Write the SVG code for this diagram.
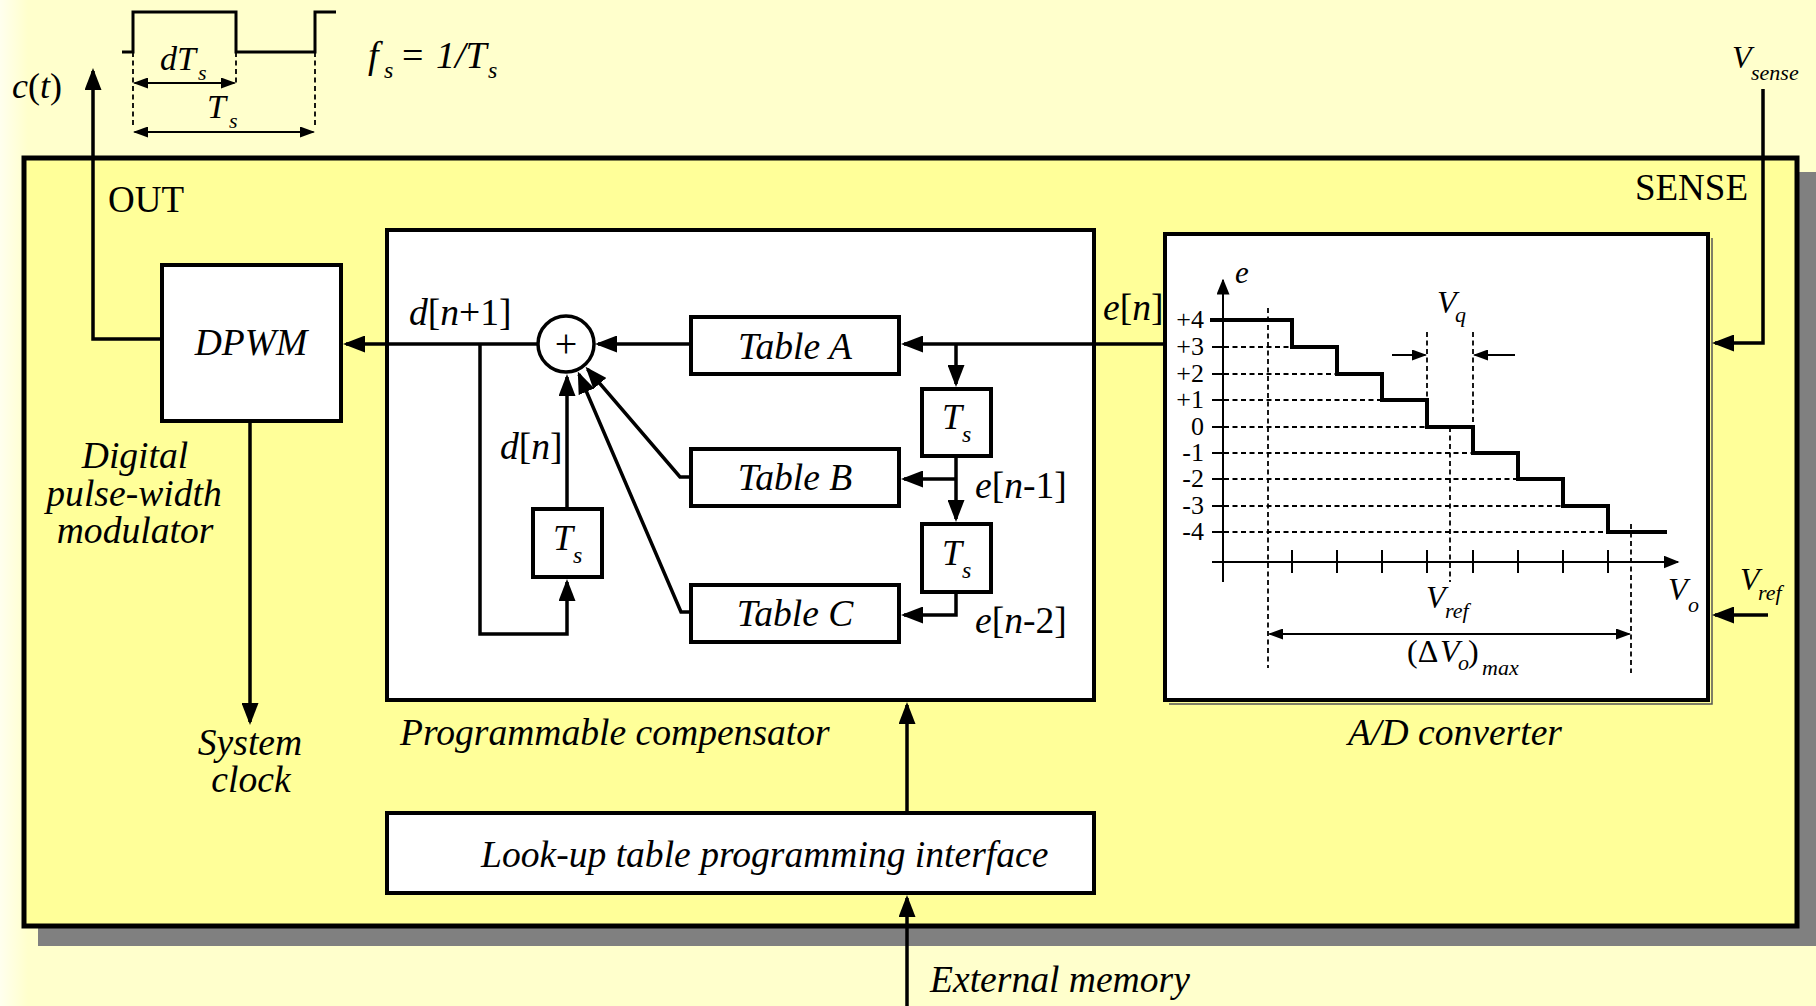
<svg xmlns="http://www.w3.org/2000/svg" width="1816" height="1006" viewBox="0 0 1816 1006">
  <defs>
    <linearGradient id="edge" x1="0" y1="0" x2="1" y2="0">
      <stop offset="0" stop-color="#FFFFEE"/>
      <stop offset="1" stop-color="#FFFFCC"/>
    </linearGradient>
    <!-- large connector arrowhead -->
    <marker id="ah" markerUnits="userSpaceOnUse" markerWidth="22" markerHeight="17" refX="19" refY="8.5" orient="auto">
      <path d="M0,0 L22,8.5 L0,17 z" fill="#000"/>
    </marker>
    <!-- small dimension arrowhead -->
    <marker id="as" markerUnits="userSpaceOnUse" markerWidth="15" markerHeight="11" refX="13.5" refY="5.5" orient="auto-start-reverse">
      <path d="M0,0 L15,5.5 L0,11 z" fill="#000"/>
    </marker>
    <!-- axis arrowhead -->
    <marker id="ax" markerUnits="userSpaceOnUse" markerWidth="16" markerHeight="13" refX="14.5" refY="6.5" orient="auto">
      <path d="M0,0 L16,6.5 L0,13 z" fill="#000"/>
    </marker>
  </defs>
  <style>
    .box { fill: #FFFFFF; stroke: #000; stroke-width: 4; }
    .wire { fill: none; stroke: #000; stroke-width: 3.5; stroke-linejoin: miter; }
    .thin { fill: none; stroke: #000; stroke-width: 2; }
    .dash { fill: none; stroke: #000; stroke-width: 1.8; stroke-dasharray: 5 3.5; }
    .it { font-family: "Liberation Serif", "Times New Roman", serif; font-style: italic; font-size: 37.6px; fill: #000; }
    .rm { font-family: "Liberation Serif", "Times New Roman", serif; font-size: 37px; fill: #000; }
    .num { font-family: "Liberation Serif", "Times New Roman", serif; font-size: 26px; fill: #000; }
    .sub { font-size: 24px; }
  </style>

  <!-- page background -->
  <rect x="0" y="0" width="1816" height="1006" fill="#FFFFCC"/>
  <rect x="0" y="0" width="28" height="1006" fill="url(#edge)"/>

  <!-- switching waveform c(t) -->
  <g id="waveform">
    <path d="M122,52 H133 V12 H236 V52 H315 V12 H336" fill="none" stroke="#000" stroke-width="3"/>
    <path class="dash" d="M133,52 V127 M236,52 V85 M315,52 V127" stroke-width="1.5"/>
    <path class="thin" d="M134.5,83 H234.5" marker-start="url(#as)" marker-end="url(#as)"/>
    <path class="thin" d="M134.5,132 H313.5" marker-start="url(#as)" marker-end="url(#as)"/>
    <text class="it" x="160" y="70" style="font-size:34px">dT<tspan x="198" y="80" style="font-size:22px">s</tspan></text>
    <text class="it" x="207" y="118" style="font-size:34px">T<tspan x="229" y="128" style="font-size:22px">s</tspan></text>
    <text class="it" x="368" y="68" style="font-size:38px">f<tspan x="384" y="78" style="font-size:24px">s</tspan><tspan x="402" y="68" style="font-style:normal">=</tspan><tspan x="436" y="68">1/T</tspan><tspan x="488" y="78" style="font-size:24px">s</tspan></text>
    <text class="it" x="12" y="98" style="font-size:36px">c<tspan style="font-style:normal">(</tspan>t<tspan style="font-style:normal">)</tspan></text>
  </g>

  <!-- enclosing controller box with drop shadow -->
  <g id="controller">
    <rect x="38" y="172" width="1790" height="774" fill="#808080"/>
    <rect x="24" y="158" width="1773" height="768" fill="#FFFF99" stroke="#000" stroke-width="5"/>
    <text class="rm" x="108" y="212">OUT</text>
    <text class="rm" x="1748" y="200" text-anchor="end">SENSE</text>
  </g>

  <!-- DPWM -->
  <g id="dpwm">
    <rect class="box" x="162" y="265" width="179" height="156"/>
    <text class="it" x="251" y="355" text-anchor="middle">DPWM</text>
    <text class="it" x="135" y="468" text-anchor="middle">Digital</text>
    <text class="it" x="134" y="506" text-anchor="middle">pulse-width</text>
    <text class="it" x="135" y="543" text-anchor="middle">modulator</text>
    <text class="it" x="250" y="755" text-anchor="middle">System</text>
    <text class="it" x="251" y="792" text-anchor="middle">clock</text>
  </g>

  <!-- programmable compensator -->
  <g id="compensator">
    <rect class="box" x="387" y="230" width="707" height="470"/>
    <text class="it" x="400" y="745">Programmable compensator</text>
  </g>

  <g id="sum">
    <circle cx="566" cy="344" r="28" fill="#fff" stroke="#000" stroke-width="3.5"/>
    <text class="rm" x="566" y="357" text-anchor="middle" style="font-size:40px">+</text>
  </g>

  <g id="table-a">
    <rect class="box" x="691" y="317" width="208" height="57"/>
    <text class="it" x="795" y="359" text-anchor="middle">Table A</text>
  </g>
  <g id="table-b">
    <rect class="box" x="691" y="449" width="208" height="57"/>
    <text class="it" x="795" y="490" text-anchor="middle">Table B</text>
  </g>
  <g id="table-c">
    <rect class="box" x="691" y="585" width="208" height="57"/>
    <text class="it" x="795" y="626" text-anchor="middle">Table C</text>
  </g>

  <g id="delay-e1">
    <rect class="box" x="922" y="389" width="69" height="67"/>
    <text class="it" x="942" y="429" style="font-size:36px">T<tspan x="962" y="442" class="sub">s</tspan></text>
  </g>
  <g id="delay-e2">
    <rect class="box" x="922" y="524" width="69" height="68"/>
    <text class="it" x="942" y="565" style="font-size:36px">T<tspan x="962" y="578" class="sub">s</tspan></text>
  </g>
  <g id="delay-d">
    <rect class="box" x="533" y="509" width="69" height="68"/>
    <text class="it" x="553" y="550" style="font-size:36px">T<tspan x="573" y="563" class="sub">s</tspan></text>
  </g>

  <!-- A/D converter with quantizer characteristic -->
  <g id="adc">
    <path d="M1712,238 V704 H1169" fill="none" stroke="#555" stroke-width="1.5"/>
    <rect class="box" x="1165" y="234" width="543" height="466"/>
    <text class="it" x="1455" y="745" text-anchor="middle">A/D converter</text>

    <!-- grid -->
    <path class="dash" d="M1224,347 H1292 M1224,374 H1337 M1224,400 H1382 M1224,427 H1427 M1224,453 H1473 M1224,479 H1518 M1224,506 H1563 M1224,532 H1608"/>
    <path class="thin" d="M1212,347 H1226 M1212,374 H1226 M1212,400 H1226 M1212,427 H1226 M1212,453 H1226 M1212,479 H1226 M1212,506 H1226 M1212,532 H1226"/>
    <path class="dash" d="M1268,308 V668 M1427,332 V400 M1473,332 V427 M1450,427 V582 M1631,524 V673"/>

    <!-- axes -->
    <path class="thin" d="M1223,582 V280" marker-end="url(#ax)" stroke-width="2.5"/>
    <path class="thin" d="M1212,562 H1678" marker-end="url(#ax)" stroke-width="2.5"/>
    <path class="thin" d="M1292,550 V573 M1337,550 V573 M1382,550 V573 M1427,550 V573 M1473,550 V573 M1518,550 V573 M1563,550 V573 M1608,550 V573" stroke-width="2.5"/>

    <!-- staircase -->
    <path d="M1210,320 H1292 V347 H1337 V374 H1382 V400 H1427 V427 H1473 V453 H1518 V479 H1563 V506 H1608 V532 H1667" fill="none" stroke="#000" stroke-width="4"/>

    <!-- level labels -->
    <g class="num" text-anchor="end">
      <text x="1204" y="328">+4</text>
      <text x="1204" y="355">+3</text>
      <text x="1204" y="382">+2</text>
      <text x="1204" y="408">+1</text>
      <text x="1204" y="435">0</text>
      <text x="1204" y="461">-1</text>
      <text x="1204" y="487">-2</text>
      <text x="1204" y="514">-3</text>
      <text x="1204" y="540">-4</text>
    </g>
    <text class="it" x="1235" y="283" style="font-size:31px">e</text>

    <!-- quantization step -->
    <path class="thin" d="M1392,355 H1425.5" marker-end="url(#as)"/>
    <path class="thin" d="M1515,355 H1474.5" marker-end="url(#as)"/>
    <text class="it" x="1437" y="313" style="font-size:32px">V<tspan x="1455" y="322" style="font-size:22px">q</tspan></text>

    <text class="it" x="1426" y="608" style="font-size:32px">V<tspan x="1445" y="618" style="font-size:22px">ref</tspan></text>
    <text class="it" x="1668" y="600" style="font-size:32px">V<tspan x="1688" y="612" style="font-size:22px">o</tspan></text>

    <!-- full-scale range -->
    <path class="thin" d="M1269.5,634 H1629.5" marker-start="url(#as)" marker-end="url(#as)"/>
    <text class="rm" x="1407" y="662" style="font-size:32px">(Δ<tspan x="1440" style="font-style:italic">V</tspan><tspan x="1458" y="670" style="font-size:22px;font-style:italic">o</tspan><tspan x="1468" y="662">)</tspan><tspan x="1482" y="675" style="font-size:22px;font-style:italic">max</tspan></text>
  </g>

  <!-- look-up table programming interface -->
  <g id="lut-interface">
    <rect class="box" x="387" y="813" width="707" height="80"/>
    <text class="it" x="481" y="867">Look-up table programming interface</text>
  </g>

  <!-- external labels -->
  <g id="labels">
    <text class="it" x="1732" y="68" style="font-size:32px">V<tspan x="1751" y="80" style="font-size:22px">sense</tspan></text>
    <text class="it" x="1740" y="590" style="font-size:32px">V<tspan x="1758" y="600" style="font-size:22px">ref</tspan></text>
    <text class="it" x="930" y="992">External memory</text>
    <text class="it" x="409" y="325">d<tspan style="font-style:normal">[</tspan>n<tspan style="font-style:normal">+1]</tspan></text>
    <text class="it" x="500" y="459">d<tspan style="font-style:normal">[</tspan>n<tspan style="font-style:normal">]</tspan></text>
    <text class="it" x="1103" y="320">e<tspan style="font-style:normal">[</tspan>n<tspan style="font-style:normal">]</tspan></text>
    <text class="it" x="975" y="498">e<tspan style="font-style:normal">[</tspan>n<tspan style="font-style:normal">-1]</tspan></text>
    <text class="it" x="975" y="633">e<tspan style="font-style:normal">[</tspan>n<tspan style="font-style:normal">-2]</tspan></text>
  </g>

  <!-- connectors -->
  <g id="connectors">
    <path class="wire" d="M537,344 H346" marker-end="url(#ah)"/>
    <path class="wire" d="M160,339 H93 V71" marker-end="url(#ah)"/>
    <path class="wire" d="M250,423 V722" marker-end="url(#ah)"/>
    <path class="wire" d="M689,344 H598" marker-end="url(#ah)"/>
    <path class="wire" d="M1163,344 H904" marker-end="url(#ah)"/>
    <path class="wire" d="M956,344 V384" marker-end="url(#ah)"/>
    <path class="wire" d="M956,458 V519" marker-end="url(#ah)"/>
    <path class="wire" d="M956,479 H904" marker-end="url(#ah)"/>
    <path class="wire" d="M956,594 V615 H904" marker-end="url(#ah)"/>
    <path class="wire" d="M689,477 H680 L587.5,369.1" marker-end="url(#ah)"/>
    <path class="wire" d="M689,612 H681 L579,374.3" marker-end="url(#ah)"/>
    <path class="wire" d="M567,507 V377" marker-end="url(#ah)"/>
    <path class="wire" d="M480,344 V634 H567 V582" marker-end="url(#ah)"/>
    <path class="wire" d="M907,811 V705" marker-end="url(#ah)"/>
    <path class="wire" d="M907,1006 V898" marker-end="url(#ah)"/>
    <path class="wire" d="M1763,89 V343 H1715" marker-end="url(#ah)"/>
    <path class="wire" d="M1768,615 H1715" marker-end="url(#ah)"/>
  </g>
</svg>
